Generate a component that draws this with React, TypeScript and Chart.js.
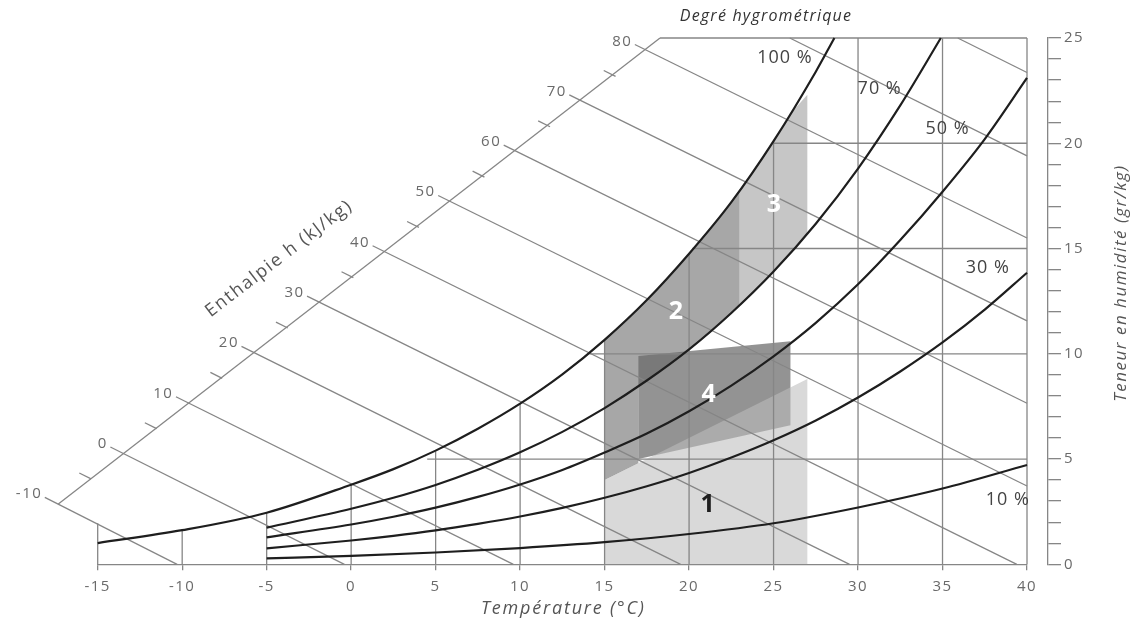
import React, { useEffect, useRef } from "react";
import { Chart, registerables } from "chart.js";

Chart.register(...registerables);

const FONT = "'Open Sans', 'DejaVu Sans', sans-serif";

// Axes ranges
const tempMin = -15;
const tempMax = 40;
const humMin = 0;
const humMax = 25;

// Relative humidity curves (temperature °C -> moisture content g/kg)
const rh100T = [-15, -10, -5, 0, 2.5, 5, 7.5, 10, 12.5, 15, 17.5, 20, 22.5, 25, 27.5, 28.6];
const rh100W = [1.01, 1.62, 2.45, 3.78, 4.52, 5.4, 6.44, 7.63, 9.02, 10.66, 12.55, 14.75, 17.2, 20.1, 23.4, 25.0];
const rh70T = [-5, 0, 2.5, 5, 7.5, 10, 12.5, 15, 17.5, 20, 22.5, 25, 27.5, 30, 32.5, 34.9];
const rh70W = [1.74, 2.64, 3.16, 3.77, 4.49, 5.32, 6.29, 7.42, 8.73, 10.21, 11.94, 13.91, 16.18, 18.8, 21.8, 25.0];
const rh50T = [-5, 0, 2.5, 5, 7.5, 10, 12.5, 15, 17.5, 20, 22.5, 25, 27.5, 30, 32.5, 35, 37.5, 40];
const rh50W = [1.28, 1.89, 2.26, 2.69, 3.2, 3.79, 4.48, 5.31, 6.21, 7.27, 8.49, 9.88, 11.47, 13.3, 15.4, 17.7, 20.2, 23.1];
const rh30T = [-5, 0, 2.5, 5, 7.5, 10, 12.5, 15, 17.5, 20, 22.5, 25, 27.5, 30, 32.5, 35, 37.5, 40];
const rh30W = [0.76, 1.13, 1.35, 1.61, 1.92, 2.27, 2.68, 3.16, 3.71, 4.34, 5.07, 5.89, 6.83, 7.92, 9.16, 10.54, 12.1, 13.85];
const rh10T = [-5, 0, 5, 10, 15, 20, 25, 30, 35, 40];
const rh10W = [0.28, 0.4, 0.56, 0.77, 1.05, 1.44, 1.95, 2.7, 3.6, 4.72];

const rhLabels = ["100 %", "70 %", "50 %", "30 %", "10 %"];
const rhLabelT = [25.67, 31.28, 35.3, 37.68, 38.86];
const rhLabelW = [24.05, 22.6, 20.7, 14.1, 3.06];

// Enthalpy lines (kJ/kg): start on the slanted enthalpy scale, end on the chart border
const enthalpyValues = [-10, 0, 10, 20, 30, 40, 50, 60, 70, 80];
const enthalpyAxisT = [-17.33, -13.45, -9.57, -5.69, -1.81, 2.07, 5.95, 9.83, 13.71, 17.59];
const enthalpyAxisW = [2.86, 5.25, 7.64, 10.03, 12.42, 14.81, 17.2, 19.59, 21.98, 24.37];
const enthalpyEndT = [-10.3, -0.4, 9.6, 19.5, 29.5, 39.4, 40, 40, 40, 40];
const enthalpyEndW = [0, 0, 0, 0, 0, 0, 3.72, 7.65, 11.56, 15.5];
const enthalpyAxisEnd = { x: 18.28, y: 25 };
// lines h = 90 and 100 that start on the top border
const upperEnthalpyStartT = [25.96, 35.9];
const upperEnthalpyStartW = [25, 25];
const upperEnthalpyEndT = [40, 40];
const upperEnthalpyEndW = [19.4, 23.36];

// Grid: vertical lines up to saturation / border, horizontal lines from saturation to 40 °C
const vGridT = [-15, -10, -5, 0, 5, 10, 15, 20, 25, 30, 35, 40];
const vGridTop = [1.95, 1.62, 2.45, 3.78, 5.35, 7.63, 10.66, 14.75, 20.1, 25, 25, 25];
const hGridW = [5, 10, 15, 20, 25];
const hGridStartT = [4.5, 14.1, 20.2, 25.0, 18.28];

// Comfort zones (polygons in T / W)
const zone1T = [15, 15, 27, 27];
const zone1W = [0, 4.0, 8.8, 0];
const zone2T = [15, 15, 16, 17, 18, 19, 20, 21, 22, 23, 23, 22, 21, 20, 19, 18, 17, 17];
const zone2W = [4.0, 10.66, 11.4, 12.2, 13.0, 13.8, 14.75, 15.7, 16.7, 17.8, 12.3, 11.55, 10.85, 10.21, 9.6, 9.0, 8.45, 4.8];
const zone3T = [23, 23, 24, 25, 26, 27, 27, 26, 25, 24];
const zone3W = [12.3, 17.8, 18.9, 20.1, 21.4, 22.3, 15.7, 14.8, 13.91, 13.1];
const zone4T = [17, 17, 26, 26];
const zone4W = [5.0, 9.9, 10.6, 6.6];

const zoneLabels = ["1", "2", "3", "4"];
const zoneLabelT = [21.1, 19.22, 25.02, 21.16];
const zoneLabelW = [2.82, 12.01, 17.08, 8.03];

const GRID = "#868686";
const CURVE = "#1e1e1e";
const TEXT = "#6a6a6a";

const pts = (T: number[], W: number[]) => T.map((t, i) => ({ x: t, y: W[i] }));

function lineDs(data: any[], color: string, width: number, order: number, curved = false) {
  return {
    data,
    showLine: true,
    borderColor: color,
    borderWidth: width,
    pointRadius: 0,
    pointHoverRadius: 0,
    fill: false,
    clip: false,
    order,
    cubicInterpolationMode: curved ? "monotone" : "default",
    tension: 0,
    yAxisID: "y",
  };
}

function fillDs(data: any[], color: string, order: number) {
  return {
    data,
    showLine: true,
    borderColor: "rgba(0,0,0,0)",
    borderWidth: 1,
    backgroundColor: color,
    pointRadius: 0,
    pointHoverRadius: 0,
    fill: "shape",
    clip: false,
    order,
    tension: 0,
    yAxisID: "y",
  };
}

function buildDatasets() {
  const ds: any[] = [];
  // zones
  ds.push(fillDs(pts(zone2T, zone2W), "#a7a7a7", 40));
  ds.push(fillDs(pts(zone3T, zone3W), "#c6c6c6", 39));
  ds.push(fillDs(pts(zone4T, zone4W), "rgba(103,103,103,0.71)", 38));
  ds.push(fillDs(pts(zone1T, zone1W), "rgba(190,190,190,0.58)", 37));
  // grid
  vGridT.forEach((t, i) => ds.push(lineDs([{ x: t, y: 0 }, { x: t, y: vGridTop[i] }], GRID, 1.3, 20)));
  hGridW.forEach((w, i) => ds.push(lineDs([{ x: hGridStartT[i], y: w }, { x: tempMax, y: w }], GRID, 1.3, 20)));
  // enthalpy scale line
  ds.push(lineDs([{ x: enthalpyAxisT[0], y: enthalpyAxisW[0] }, enthalpyAxisEnd], GRID, 1.3, 19));
  // enthalpy lines (with a small tick beyond the scale)
  const tickDT = -0.8;
  const tickDW = 0.32;
  enthalpyValues.forEach((_, i) => {
    ds.push(
      lineDs(
        [
          { x: enthalpyAxisT[i] + tickDT, y: enthalpyAxisW[i] + tickDW },
          { x: enthalpyEndT[i], y: enthalpyEndW[i] },
        ],
        GRID,
        1.3,
        19
      )
    );
  });
  upperEnthalpyStartT.forEach((t, i) => {
    ds.push(lineDs([{ x: t, y: upperEnthalpyStartW[i] }, { x: upperEnthalpyEndT[i], y: upperEnthalpyEndW[i] }], GRID, 1.3, 19));
  });
  // minor ticks on the enthalpy scale
  for (let i = 0; i < enthalpyAxisT.length - 1; i++) {
    const mt = (enthalpyAxisT[i] + enthalpyAxisT[i + 1]) / 2;
    const mw = (enthalpyAxisW[i] + enthalpyAxisW[i + 1]) / 2;
    ds.push(lineDs([{ x: mt, y: mw }, { x: mt - 0.7, y: mw + 0.28 }], GRID, 1.3, 19));
  }
  // humidity curves
  ds.push(lineDs(pts(rh100T, rh100W), CURVE, 2.2, 1, true));
  ds.push(lineDs(pts(rh70T, rh70W), CURVE, 2.2, 1, true));
  ds.push(lineDs(pts(rh50T, rh50W), CURVE, 2.2, 1, true));
  ds.push(lineDs(pts(rh30T, rh30W), CURVE, 2.2, 1, true));
  ds.push(lineDs(pts(rh10T, rh10W), CURVE, 2.2, 1, true));
  return ds;
}

const spacingPlugin = {
  id: "letterSpacing",
  beforeLayout(chart: any) {
    chart.ctx.letterSpacing = "1.5px";
  },
  beforeDraw(chart: any) {
    chart.ctx.letterSpacing = "1.5px";
  },
};

const textPlugin = {
  id: "psychroText",
  afterDatasetsDraw(chart: any) {
    const { ctx, chartArea } = chart;
    const xs = chart.scales.x;
    const ys = chart.scales.y;
    const px = (t: number) => xs.getPixelForValue(t);
    const py = (w: number) => ys.getPixelForValue(w);
    ctx.save();

    // enthalpy scale labels
    ctx.letterSpacing = "1.5px";
    ctx.fillStyle = TEXT;
    ctx.font = `15px ${FONT}`;
    ctx.textAlign = "right";
    ctx.textBaseline = "middle";
    enthalpyValues.forEach((h, i) => {
      ctx.fillText(String(h), px(enthalpyAxisT[i]) - 16, py(enthalpyAxisW[i]) - 10);
    });

    // RH labels
    ctx.fillStyle = "#444";
    ctx.font = `18px ${FONT}`;
    ctx.textAlign = "center";
    ctx.letterSpacing = "1px";
    rhLabels.forEach((s, i) => ctx.fillText(s, px(rhLabelT[i]), py(rhLabelW[i])));

    // zone labels
    ctx.letterSpacing = "0px";
    ctx.font = `bold 25px ${FONT}`;
    zoneLabels.forEach((s, i) => {
      ctx.fillStyle = i === 0 ? "#1e1e1e" : "#ffffff";
      ctx.fillText(s, px(zoneLabelT[i]), py(zoneLabelW[i]));
    });

    // titles
    ctx.letterSpacing = "1.2px";
    ctx.fillStyle = "#333";
    ctx.font = `italic 16px ${FONT}`;
    ctx.fillText("Degré hygrométrique", 766, 16);

    ctx.fillStyle = "#555";
    ctx.letterSpacing = "1.8px";
    ctx.font = `italic 18px ${FONT}`;
    ctx.fillText("Température (°C)", (chartArea.left + chartArea.right) / 2 + 1, chartArea.bottom + 45);

    ctx.save();
    ctx.translate(1121, 283);
    ctx.rotate(-Math.PI / 2);
    ctx.letterSpacing = "1.5px";
    ctx.font = `italic 17px ${FONT}`;
    ctx.fillText("Teneur en humidité (gr/kg)", 0, 0);
    ctx.restore();

    const ang = Math.atan2(
      py(enthalpyAxisW[9]) - py(enthalpyAxisW[0]),
      px(enthalpyAxisT[9]) - px(enthalpyAxisT[0])
    );
    ctx.save();
    ctx.translate(px(-4.27), py(14.52));
    ctx.rotate(ang);
    ctx.letterSpacing = "1.6px";
    ctx.font = `18px ${FONT}`;
    ctx.fillStyle = "#555";
    ctx.fillText("Enthalpie h (kJ/kg)", 0, 0);
    ctx.restore();

    ctx.restore();
  },
};

export default function App() {
  const ref = useRef<HTMLCanvasElement | null>(null);
  useEffect(() => {
    document.body.style.margin = "0";
    const canvas = ref.current;
    if (!canvas) return;
    const chart = new Chart(canvas, {
      type: "scatter",
      data: { datasets: buildDatasets() },
      options: {
        responsive: false,
        animation: false,
        events: [],
        layout: { padding: { left: 97.7, top: 38, right: 0, bottom: 8.7 } },
        plugins: { legend: { display: false }, tooltip: { enabled: false } },
        scales: {
          x: {
            type: "linear",
            position: "bottom",
            min: tempMin,
            max: tempMax,
            ticks: { stepSize: 5, color: TEXT, font: { family: FONT, size: 15 }, padding: 7 },
            grid: { drawOnChartArea: false, drawTicks: true, tickLength: 6, color: GRID, lineWidth: 1.3 },
            border: { display: true, color: GRID, width: 1.3 },
            afterFit: (s: any) => {
              s.height = 50;
            },
          },
          ySpace: {
            type: "linear",
            position: "right",
            weight: 0,
            min: humMin,
            max: humMax,
            ticks: { display: false },
            grid: { display: false, drawTicks: false },
            border: { display: false },
            afterFit: (s: any) => {
              s.width = 21;
            },
          },
          y: {
            type: "linear",
            position: "right",
            weight: 1,
            min: humMin,
            max: humMax,
            ticks: {
              stepSize: 1,
              autoSkip: false,
              color: TEXT,
              font: { family: FONT, size: 15 },
              padding: 3,
              callback: (v: any) => (Number(v) % 5 === 0 ? String(v) : ""),
            },
            grid: { drawOnChartArea: false, drawTicks: true, tickLength: 13, color: GRID, lineWidth: 1.3 },
            border: { display: true, color: GRID, width: 1.3 },
            afterFit: (s: any) => {
              s.width = 95;
            },
          },
        },
      } as any,
      plugins: [spacingPlugin, textPlugin],
    });
    return () => chart.destroy();
  }, []);
  return (
    <div style={{ width: 1143, height: 623, background: "#fff" }}>
      <canvas ref={ref} width={1143} height={623} style={{ display: "block" }} />
    </div>
  );
}
